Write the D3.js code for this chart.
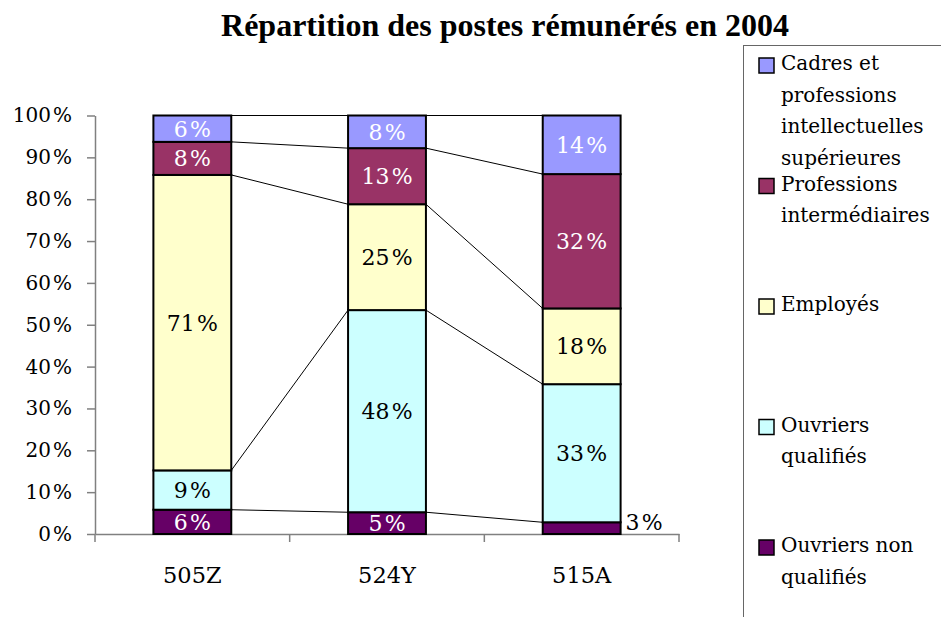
<!DOCTYPE html>
<html>
<head>
<meta charset="utf-8">
<script src="https://cdn.jsdelivr.net/npm/d3@7"></script>
<style>
  body { margin: 0; background: #fff; }
  svg { display: block; }
</style>
</head>
<body>
<svg></svg>
<script>
// data (%)
let categories = ["505Z", "524Y", "515A"];
let ouvriersNonQualifies = [5.8, 5.2, 2.8];
let ouvriersQualifies = [9.4, 48.3, 33.0];
let employes = [70.6, 25.3, 18.1];
let professionsInter = [7.9, 13.4, 32.1];
let cadres = [6.3, 7.8, 14.0];
let yTicks = [0, 10, 20, 30, 40, 50, 60, 70, 80, 90, 100];

let seriesKeys = ["onq", "oq", "emp", "pi", "cad"];
let seriesColors = { onq: "#660066", oq: "#CCFFFF", emp: "#FFFFCC", pi: "#993366", cad: "#9999FF" };
let labelColors = { onq: "#fff", oq: "#000", emp: "#000", pi: "#fff", cad: "#fff" };
// legend, top to bottom, as wrapped in the picture
let legendKeys = ["cad", "pi", "emp", "oq", "onq"];
let legendLines = [
  ["Cadres et", "professions", "intellectuelles", "supérieures"],
  ["Professions", "intermédiaires"],
  ["Employés"],
  ["Ouvriers", "qualifiés"],
  ["Ouvriers non", "qualifiés"]
];

var svgWidth = 941, svgHeight = 617;
var plotLeft = 95, plotRight = 679, plotTop = 115.5, plotBottom = 534;
var bodyFont = "'DejaVu Serif', serif";
var pct = d => d + "\u200A%";

var svg = d3.select("svg")
            .attr("width", svgWidth)
            .attr("height", svgHeight);

var rows = categories.map((c, i) => ({
  cat: c,
  onq: ouvriersNonQualifies[i],
  oq: ouvriersQualifies[i],
  emp: employes[i],
  pi: professionsInter[i],
  cad: cadres[i]
}));
var stacked = d3.stack().keys(seriesKeys)(rows);

var x = d3.scaleBand()
          .domain(categories)
          .range([plotLeft, plotRight])
          .paddingInner(0.6)
          .paddingOuter(0.3);
var y = d3.scaleLinear()
          .domain([0, 100])
          .range([plotBottom, plotTop]);

// title
svg.append("text")
   .attr("x", 505)
   .attr("y", 36)
   .attr("text-anchor", "middle")
   .attr("font-family", "'Liberation Serif', serif")
   .attr("font-weight", "bold")
   .attr("font-size", 32)
   .text("Répartition des postes rémunérés en 2004");

// y axis
var yAxis = svg.append("g")
   .attr("transform", `translate(${plotLeft},0)`)
   .call(d3.axisLeft(y).tickValues(yTicks).tickSize(8).tickSizeOuter(0).tickPadding(15).tickFormat(pct));
yAxis.select(".domain").attr("stroke", "#808080").attr("stroke-width", 1.5);
yAxis.selectAll(".tick line").attr("stroke", "#808080").attr("stroke-width", 1.5);
yAxis.selectAll("text")
     .attr("font-family", bodyFont)
     .attr("font-size", 20)
     .attr("fill", "#000");

// x axis
var xAxis = svg.append("g")
   .attr("transform", `translate(0,${plotBottom})`)
   .call(d3.axisBottom(x).tickSize(0).tickSizeOuter(0));
xAxis.select(".domain").attr("stroke", "#808080").attr("stroke-width", 1.5);
xAxis.selectAll("text")
     .attr("y", 49)
     .attr("dy", null)
     .attr("font-family", bodyFont)
     .attr("font-size", 22.5)
     .attr("fill", "#000");

var boundaries = [x.range()[0]].concat(categories.map(c => x(c) + x.bandwidth() + (x.step() - x.bandwidth()) / 2));
xAxis.selectAll(".cat-tick")
     .data(boundaries)
     .enter()
     .append("line")
     .attr("x1", d => d).attr("x2", d => d)
     .attr("y1", 0).attr("y2", 8)
     .attr("stroke", "#808080")
     .attr("stroke-width", 1.5);

// series lines between bars
var seriesLines = [];
stacked.forEach(s => {
  for (let i = 0; i < s.length - 1; i++) {
    seriesLines.push({ x1: x(categories[i]) + x.bandwidth(), y1: y(s[i][1]), x2: x(categories[i + 1]), y2: y(s[i + 1][1]) });
  }
});
svg.selectAll(".series-line")
   .data(seriesLines)
   .enter()
   .append("line")
   .attr("x1", d => d.x1).attr("y1", d => d.y1)
   .attr("x2", d => d.x2).attr("y2", d => d.y2)
   .attr("stroke", "#000")
   .attr("stroke-width", 1);

// bars
var layers = svg.selectAll(".layer")
   .data(stacked)
   .enter()
   .append("g")
   .attr("fill", d => seriesColors[d.key]);
layers.selectAll("rect")
   .data(d => d)
   .enter()
   .append("rect")
   .attr("x", d => x(d.data.cat))
   .attr("y", d => y(d[1]))
   .attr("width", x.bandwidth())
   .attr("height", d => y(d[0]) - y(d[1]))
   .attr("stroke", "#000")
   .attr("stroke-width", 2);

// data labels (too thin segments get theirs outside, on the right)
stacked.forEach(s => {
  svg.selectAll(".lbl-" + s.key)
     .data(s)
     .enter()
     .append("text")
     .attr("x", d => (d[1] - d[0]) < 4 ? x(d.data.cat) + x.bandwidth() + 5 : x(d.data.cat) + x.bandwidth() / 2)
     .attr("y", d => (d[1] - d[0]) < 4 ? y(d[1]) : (y(d[0]) + y(d[1])) / 2)
     .attr("dy", "0.36em")
     .attr("text-anchor", d => (d[1] - d[0]) < 4 ? "start" : "middle")
     .attr("font-family", bodyFont)
     .attr("font-size", 22)
     .attr("fill", d => (d[1] - d[0]) < 4 ? "#000" : labelColors[s.key])
     .text(d => pct(Math.round(d[1] - d[0])));
});

// legend
svg.append("rect")
   .attr("x", 743.5).attr("y", 45.5)
   .attr("width", 300).attr("height", 600)
   .attr("fill", "none")
   .attr("stroke", "#666")
   .attr("stroke-width", 1);

var legend = svg.selectAll(".legend-item")
   .data(legendKeys)
   .enter()
   .append("g")
   .attr("transform", (d, i) => `translate(0,${70 + i * 120.5})`);
legend.append("rect")
   .attr("x", 759).attr("y", -12)
   .attr("width", 15).attr("height", 15)
   .attr("fill", d => seriesColors[d])
   .attr("stroke", "#000")
   .attr("stroke-width", 1.5);
legend.append("text")
   .attr("font-family", bodyFont)
   .attr("font-size", 20)
   .attr("fill", "#000")
   .selectAll("tspan")
   .data((d, i) => legendLines[i])
   .enter()
   .append("tspan")
   .attr("x", 781)
   .attr("y", (d, i) => i * 31.5)
   .text(d => d);
</script>
</body>
</html>
